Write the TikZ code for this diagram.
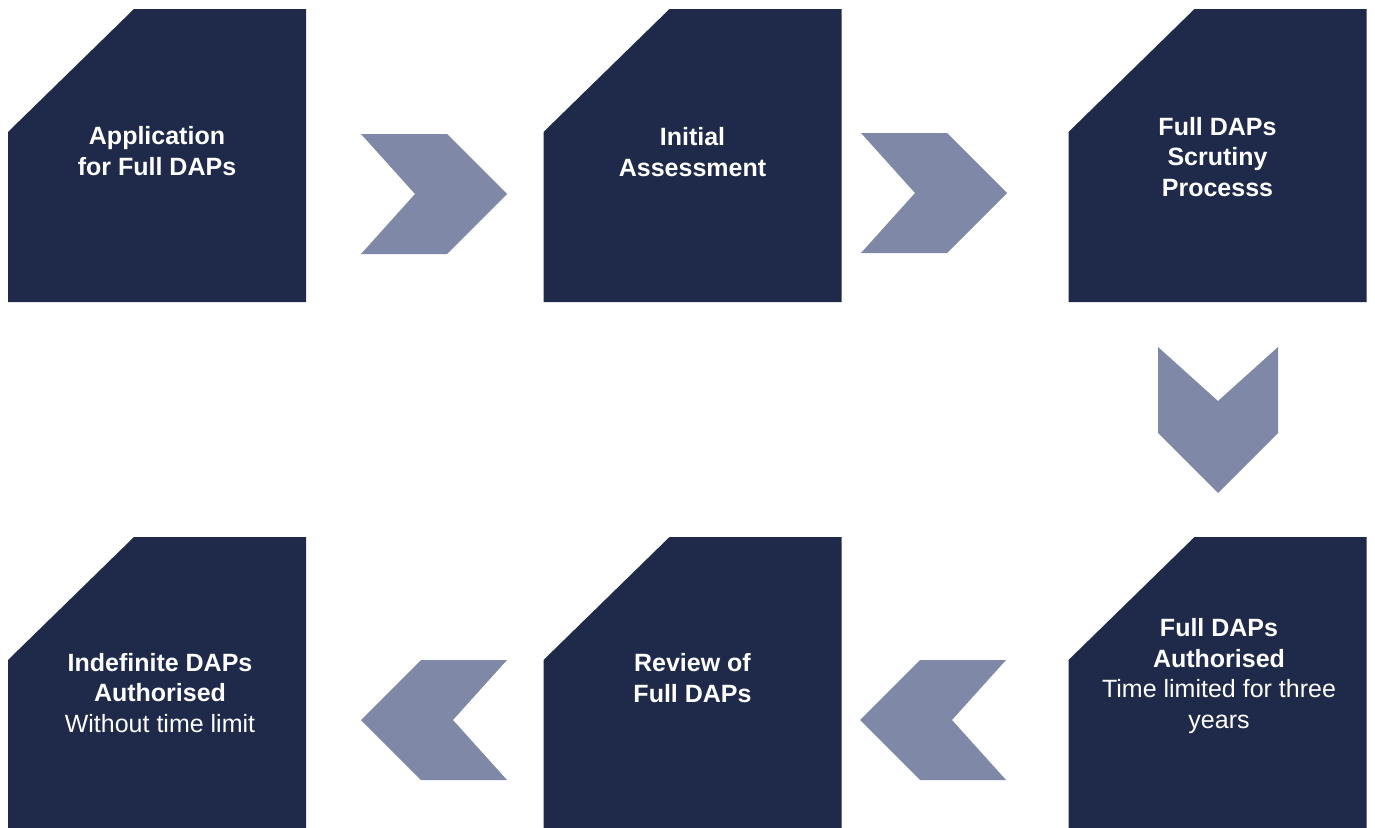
\documentclass[tikz,border=0pt]{standalone}
\usepackage{fontspec}
\setmainfont{Liberation Sans}
\definecolor{navy}{HTML}{1F2A4B}
\definecolor{chev}{HTML}{7F88A6}
\begin{document}
\begin{tikzpicture}[x=1pt,y=-1pt,
  boxarea/.style={minimum width=298pt, minimum height=293pt, inner sep=0pt, outer sep=0pt},
  dapfill/.style={fill=navy},
  lbl/.style={text=white, align=center, font=\fontsize{25}{30.5}\selectfont, inner sep=0pt},
  rightchev/.pic={\fill[chev] (0,0) -- (86,0) -- (146,60) -- (86,120) -- (0,120) -- (54,60) -- cycle;},
  leftchev/.pic={\fill[chev] (0,0) -- (-86,0) -- (-146,60) -- (-86,120) -- (0,120) -- (-54,60) -- cycle;},
  downchev/.pic={\fill[chev] (0,0) -- (60,54) -- (120,0) -- (120,86) -- (60,146) -- (0,86) -- cycle;}
]
\useasboundingbox (0,0) rectangle (1375,827);
\clip (0,0) rectangle (1375,827);
\fill[white] (0,0) rectangle (1375,827);

% box areas
\node[boxarea] (b1) at (157,155.5) {};
\node[boxarea] (b2) at (692.5,155.5) {};
\node[boxarea] (b3) at (1217.5,155.5) {};
\node[boxarea] (b6) at (1217.5,683.5) {};
\node[boxarea] (b5) at (692.5,683.5) {};
\node[boxarea] (b4) at (157,683.5) {};

\foreach \b in {b1,b2,b3,b4,b5,b6}{
  \fill[dapfill] ([yshift=-123pt]\b.north west) -- ([xshift=126pt]\b.north west) -- (\b.north east) -- (\b.south east) -- (\b.south west) -- cycle;
}

% texts
\node[lbl] (t1) at (157,151) {\textbf{Application}\\\textbf{for Full DAPs}};
\node[lbl] (t2) at (692.5,152) {\textbf{Initial}\\\textbf{Assessment}};
\node[lbl] (t3) at (1217.5,157) {\textbf{Full DAPs}\\\textbf{Scrutiny}\\\textbf{Processs}};
\node[lbl] (t6) at (1219,676) {\textbf{Full DAPs}\\\textbf{Authorised}\\Time limited for three\\years};
\node[lbl] (t5) at (692.5,678) {\textbf{Review of}\\\textbf{Full DAPs}};
\node[lbl] (t4) at (160,693) {\textbf{Indefinite DAPs}\\\textbf{Authorised}\\Without time limit};

% chevrons
\coordinate (c12) at (361,134);
\coordinate (c23) at (861,133);
\coordinate (c36) at (1158,347);
\coordinate (c65) at (1006,660);
\coordinate (c54) at (507,660);
\pic at (c12) {rightchev};
\pic at (c23) {rightchev};
\pic at (c36) {downchev};
\pic at (c65) {leftchev};
\pic at (c54) {leftchev};
\end{tikzpicture}
\end{document}
